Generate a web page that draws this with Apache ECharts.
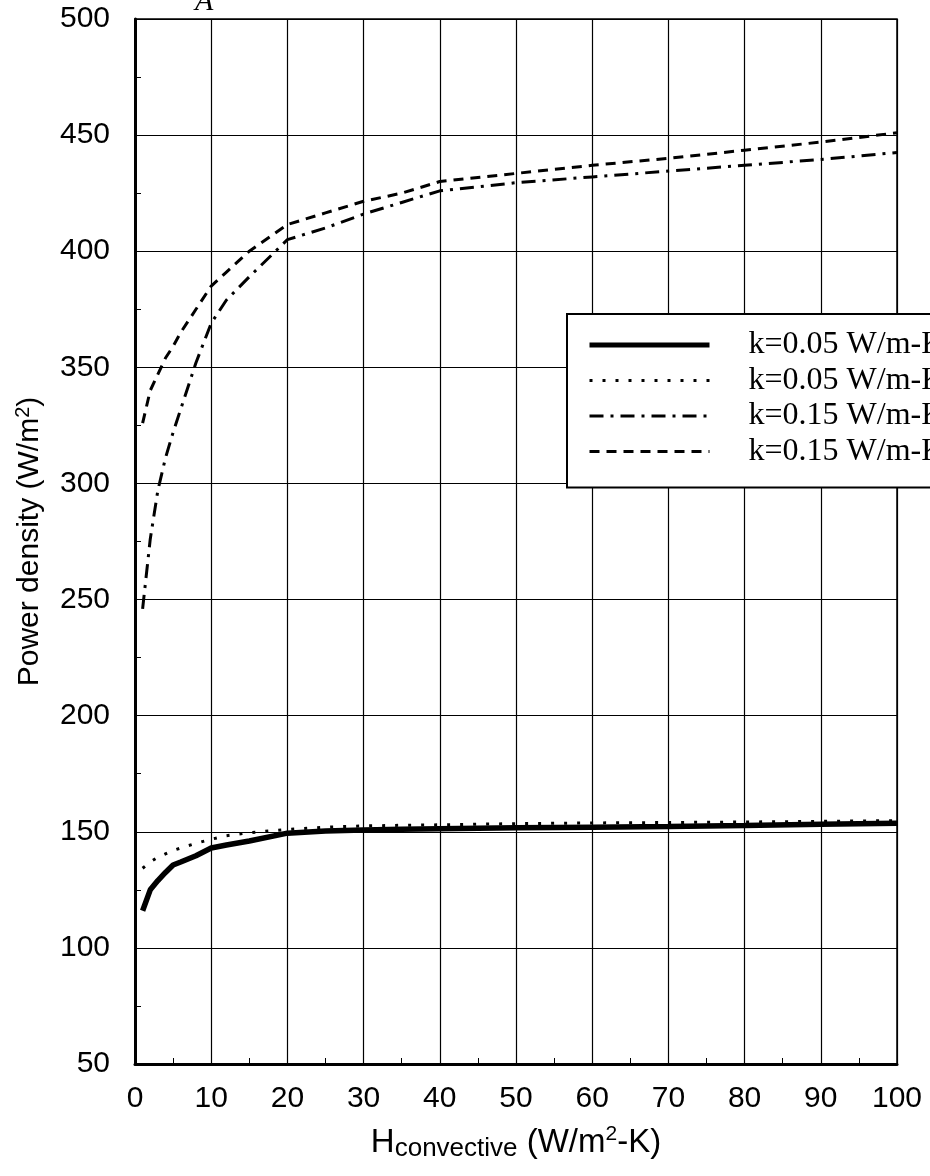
<!DOCTYPE html>
<html>
<head>
<meta charset="utf-8">
<script src="https://cdn.jsdelivr.net/npm/echarts@6/dist/echarts.min.js"></script>
<style>
html,body{margin:0;padding:0;background:#fff}
#chart{width:930px;height:1176px}
</style>
</head>
<body>
<div id="chart"></div>
<script>
// H convective (W/m2-K)
var hValues = [1, 2, 3, 4, 5, 6, 8, 10, 12, 15, 20, 25, 30, 35, 40, 50, 60, 70, 80, 90, 100];
// power density (W/m2)
var solid005 = [116, 125, 129, 132.5, 135.7, 137, 139.7, 143, 144.3, 146, 149.4, 150.3, 150.8, 151.1, 151.3, 151.7, 152, 152.3, 152.7, 153.2, 153.7];
var dotted005 = [134.3, 137, 139, 140.5, 142, 143, 145, 146.8, 148.3, 149.6, 151, 152, 152.5, 152.8, 153, 153.5, 153.8, 154, 154.2, 154.5, 154.8];
var dashDot015 = [246, 276, 297, 311, 322, 332, 352, 369, 379, 389, 405, 410, 416, 421, 426, 429.5, 432, 434.5, 437, 439.5, 442.5];
var dashed015 = [326, 340, 347, 354, 359, 365, 375, 385, 391, 400, 411.5, 416.5, 421.5, 425, 430, 433.5, 437, 440, 443.5, 447, 451];
var legendLabels = ['k=0.05 W/m-K', 'k=0.05 W/m-K', 'k=0.15 W/m-K', 'k=0.15 W/m-K'];

function pairs(ys) {
    var out = [];
    hValues.forEach(function (h, i) { out.push([h, ys[i]]); });
    return out;
}

var myChart = echarts.init(document.getElementById('chart'));
var sans = 'Liberation Sans';
var serif = 'Liberation Serif';

// dash patterns
var dotType = [3, 10];
var dashDotType = [14, 7, 3, 7];
var dashType = [10, 7];

function lineSeries(name, data, width, type) {
    return {
        name: name,
        type: 'line',
        data: pairs(data),
        symbol: 'none',
        smooth: false,
        lineStyle: { color: '#000', width: width, type: type, cap: 'butt' },
        itemStyle: { color: '#000' },
        z: 5
    };
}

var option = {
    backgroundColor: '#fff',
    animation: false,
    title: {
        text: 'A',
        left: 190,
        top: -18,
        textStyle: { fontFamily: serif, fontStyle: 'italic', fontSize: 30, fontWeight: 'normal', color: '#000' }
    },
    grid: {
        left: 135,
        right: 33,
        top: 19,
        bottom: 112,
        show: true,
        borderColor: '#000',
        borderWidth: 1.5
    },
    legend: {
        orient: 'vertical',
        left: 567,
        top: 314,
        padding: [15, 20, 20, 20],
        itemWidth: 120,
        itemHeight: 30,
        itemGap: 3.5,
        backgroundColor: '#fff',
        borderColor: '#000',
        borderWidth: 2,
        itemStyle: { opacity: 0 },
        data: [
            { name: 's1', lineStyle: { width: 5, type: 'solid' } },
            { name: 's2', lineStyle: { width: 3, type: dotType } },
            { name: 's3', lineStyle: { width: 3, type: dashDotType } },
            { name: 's4', lineStyle: { width: 3, type: dashType } }
        ],
        formatter: function (name) {
            return legendLabels[Number(name.slice(1)) - 1];
        },
        textStyle: {
            fontFamily: serif,
            fontSize: 32,
            lineHeight: 30,
            color: '#000',
            padding: [0, 0, 0, 34]
        }
    },
    xAxis: {
        type: 'value',
        min: 0,
        max: 100,
        interval: 10,
        name: 'H{sub|convective} (W/m{sup|2}-K)',
        nameLocation: 'middle',
        nameGap: 60,
        nameTextStyle: {
            fontFamily: sans,
            fontSize: 33,
            lineHeight: 38,
            color: '#000',
            rich: {
                sub: { fontFamily: sans, fontSize: 26, lineHeight: 20, verticalAlign: 'bottom', color: '#000' },
                sup: { fontFamily: sans, fontSize: 21, lineHeight: 18, verticalAlign: 'top', color: '#000' }
            }
        },
        axisLine: { lineStyle: { color: '#000', width: 3 } },
        axisTick: { show: true, inside: true, length: 6, lineStyle: { color: '#000' } },
        minorTick: { show: true, splitNumber: 2, length: 6, lineStyle: { color: '#000', width: 1 } },
        splitLine: { show: true, lineStyle: { color: '#000', width: 1.2 } },
        axisLabel: {
            fontFamily: sans,
            fontSize: 30,
            color: '#000',
            margin: 20
        }
    },
    yAxis: {
        type: 'value',
        min: 50,
        max: 500,
        interval: 50,
        name: 'Power density (W/m{sup|2})',
        nameLocation: 'middle',
        nameRotate: 90,
        nameGap: 88,
        nameTextStyle: {
            fontFamily: sans,
            fontSize: 30,
            lineHeight: 34,
            color: '#000',
            rich: {
                sup: { fontFamily: sans, fontSize: 20, lineHeight: 16, verticalAlign: 'top', color: '#000' }
            }
        },
        axisLine: { show: true, lineStyle: { color: '#000', width: 3 } },
        axisTick: { show: true, inside: true, length: 6, lineStyle: { color: '#000' } },
        minorTick: { show: true, splitNumber: 2, length: 6, lineStyle: { color: '#000', width: 1 } },
        splitLine: { show: true, lineStyle: { color: '#000', width: 1.2 } },
        axisLabel: {
            fontFamily: sans,
            fontSize: 30,
            color: '#000',
            margin: 25
        }
    },
    series: [
        lineSeries('s1', solid005, 5.5, 'solid'),
        lineSeries('s2', dotted005, 3, dotType),
        lineSeries('s3', dashDot015, 3, dashDotType),
        lineSeries('s4', dashed015, 3, dashType)
    ]
};
myChart.setOption(option);
</script>
</body>
</html>
